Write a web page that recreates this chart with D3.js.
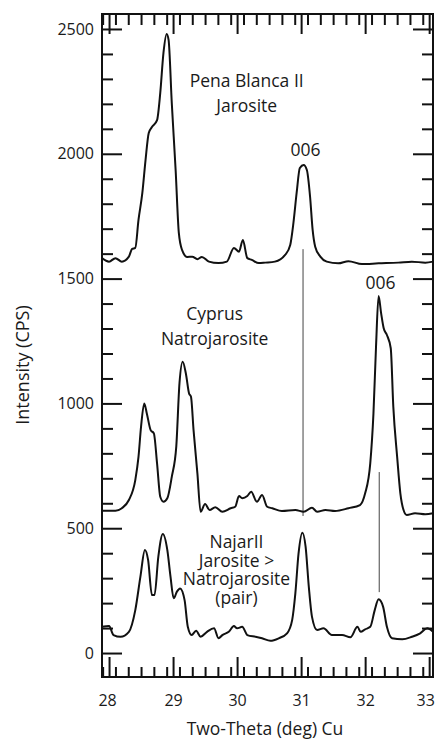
<!DOCTYPE html>
<html>
<head>
<meta charset="utf-8">
<script src="https://cdn.jsdelivr.net/npm/d3@7"></script>
<style>
  body { margin: 0; background: #fff; }
  text { font-family: "Open Sans", sans-serif; fill: #1a1a1a; }
</style>
</head>
<body>
<svg width="435" height="742"></svg>
<script>
let width = 435, height = 742;

// two-theta (deg), intensity (CPS)
const penaBlanca = [
    [27.89, 1582], [28.0, 1568], [28.1, 1582], [28.2, 1568], [28.31, 1588], [28.36, 1619],
    [28.41, 1623], [28.46, 1735], [28.52, 1843], [28.57, 1975], [28.62, 2083], [28.67, 2107],
    [28.75, 2135], [28.80, 2244], [28.85, 2404], [28.90, 2480], [28.93, 2456], [28.98, 2203],
    [29.04, 1935], [29.09, 1683], [29.14, 1615], [29.22, 1587], [29.30, 1588], [29.38, 1578],
    [29.45, 1587], [29.56, 1568], [29.71, 1562], [29.84, 1568], [29.95, 1623], [30.03, 1608],
    [30.09, 1655], [30.16, 1582], [30.23, 1575], [30.34, 1562], [30.44, 1564], [30.59, 1568],
    [30.75, 1595], [30.83, 1635], [30.88, 1723], [30.93, 1843], [30.98, 1943], [31.04, 1955],
    [31.09, 1935], [31.14, 1828], [31.18, 1695], [31.22, 1628], [31.30, 1588], [31.40, 1568],
    [31.58, 1561], [31.74, 1570], [31.95, 1558], [32.21, 1561], [32.52, 1564], [32.73, 1568],
    [32.94, 1564], [33.06, 1568]
];

const cyprus = [
    [27.89, 570], [28.1, 570], [28.2, 580], [28.31, 613], [28.41, 693], [28.46, 786],
    [28.50, 907], [28.55, 1000], [28.59, 960], [28.65, 893], [28.70, 880], [28.75, 760],
    [28.80, 626], [28.85, 606], [28.91, 620], [28.98, 706], [29.05, 827], [29.10, 1080],
    [29.15, 1167], [29.20, 1120], [29.25, 1040], [29.28, 1027], [29.32, 893], [29.38, 720],
    [29.43, 566], [29.50, 597], [29.57, 573], [29.66, 584], [29.77, 566], [29.90, 580],
    [29.97, 586], [30.03, 629], [30.08, 620], [30.16, 629], [30.22, 646], [30.31, 606],
    [30.39, 633], [30.47, 586], [30.55, 580], [30.70, 569], [30.91, 573], [31.04, 566],
    [31.17, 582], [31.25, 566], [31.38, 573], [31.53, 569], [31.74, 580], [31.92, 593],
    [32.00, 640], [32.08, 760], [32.13, 960], [32.17, 1227], [32.21, 1430], [32.25, 1361],
    [32.29, 1301], [32.34, 1274], [32.40, 1221], [32.44, 987], [32.50, 786], [32.55, 640],
    [32.60, 573], [32.65, 553], [32.78, 560], [32.94, 556], [33.06, 560]
];

const najar = [
    [27.89, 105], [28.0, 108], [28.07, 72], [28.18, 65], [28.31, 85], [28.41, 172],
    [28.49, 306], [28.56, 413], [28.61, 373], [28.67, 232], [28.71, 232], [28.77, 386],
    [28.84, 477], [28.91, 413], [28.96, 306], [29.01, 219], [29.06, 246], [29.11, 259],
    [29.18, 212], [29.23, 105], [29.29, 72], [29.36, 89], [29.43, 65], [29.53, 85],
    [29.64, 99], [29.71, 59], [29.77, 72], [29.87, 85], [29.95, 108], [30.0, 99],
    [30.08, 105], [30.16, 72], [30.29, 65], [30.39, 59], [30.52, 49], [30.65, 59],
    [30.78, 79], [30.86, 132], [30.91, 239], [30.96, 399], [31.02, 482], [31.07, 426],
    [31.12, 266], [31.17, 145], [31.25, 92], [31.35, 99], [31.48, 72], [31.64, 72],
    [31.77, 63], [31.88, 105], [31.93, 85], [32.0, 95], [32.08, 105], [32.15, 172],
    [32.21, 215], [32.28, 186], [32.34, 105], [32.42, 59], [32.58, 55], [32.73, 65],
    [32.86, 79], [32.97, 99], [33.06, 85]
];

// thin marker lines: [theta, from cps, to cps]
const markers = [[31.03, 1618, 549], [32.22, 725, 244]];

// labels: [lines, theta, cps of first baseline, line gap]
const labels = [
    [["Pena Blanca II", "Jarosite"], 30.15, 2268, 25],
    [["006"], 31.07, 1991, 0],
    [["006"], 32.24, 1458, 0],
    [["Cyprus", "Natrojarosite"], 29.65, 1336, 25],
    [["NajarII", "Jarosite >", "Natrojarosite", "(pair)"], 29.99, 421, 18.7]
];

const xMajor = [28, 29, 30, 31, 32, 33];
const yMajor = [0, 500, 1000, 1500, 2000, 2500];

let svg = d3.select("svg");

let margin = { left: 102, right: 2, top: 14, bottom: 65 };

let x = d3.scaleLinear()
    .domain([27.89, 33.06])
    .range([margin.left, width - margin.right]);

let y = d3.scaleLinear()
    .domain([-96, 2560])
    .range([height - margin.bottom, margin.top]);

let xMinor = d3.range(27.9, 33.06, 0.2).map(d => +d.toFixed(1)).filter(d => !xMajor.includes(d));
let yMinor = d3.range(0, 2560, 100).filter(d => d % 500 != 0);

let yBottom = height - margin.bottom, yTop = margin.top;
let xLeft = margin.left, xRight = width - margin.right;

function styleAxis(g) {
    g.select(".domain").remove();
    g.selectAll("line").attr("stroke", "#111").attr("stroke-width", 2);
    g.selectAll("text").style("font-size", "16px").attr("fill", "#1a1a1a");
}

// bottom
svg.append("g").attr("transform", `translate(0,${yBottom})`)
    .call(d3.axisBottom(x).tickValues(xMajor).tickSize(-20).tickPadding(18).tickFormat(d3.format("d")))
    .call(styleAxis)
    .selectAll("text").attr("dx", d => d == 33 ? -4 : (d == 28 ? -2 : 0));
svg.append("g").attr("transform", `translate(0,${yBottom})`)
    .call(d3.axisBottom(x).tickValues(xMinor).tickSize(-10).tickFormat(""))
    .call(styleAxis);
// top
svg.append("g").attr("transform", `translate(0,${yTop})`)
    .call(d3.axisTop(x).tickValues(xMajor).tickSize(-20).tickFormat(""))
    .call(styleAxis);
svg.append("g").attr("transform", `translate(0,${yTop})`)
    .call(d3.axisTop(x).tickValues(xMinor).tickSize(-11).tickFormat(""))
    .call(styleAxis);
// left
svg.append("g").attr("transform", `translate(${xLeft},0)`)
    .call(d3.axisLeft(y).tickValues(yMajor).tickSize(-20).tickPadding(8).tickFormat(d3.format("d")))
    .call(styleAxis);
svg.append("g").attr("transform", `translate(${xLeft},0)`)
    .call(d3.axisLeft(y).tickValues(yMinor).tickSize(-11).tickFormat(""))
    .call(styleAxis);
// right
svg.append("g").attr("transform", `translate(${xRight},0)`)
    .call(d3.axisRight(y).tickValues(yMajor).tickSize(-20).tickFormat(""))
    .call(styleAxis);
svg.append("g").attr("transform", `translate(${xRight},0)`)
    .call(d3.axisRight(y).tickValues(yMinor).tickSize(-11).tickFormat(""))
    .call(styleAxis);

// frame
svg.append("rect")
    .attr("x", xLeft).attr("y", yTop)
    .attr("width", xRight - xLeft).attr("height", yBottom - yTop)
    .attr("fill", "none").attr("stroke", "#111").attr("stroke-width", 2);

// marker lines
svg.append("g").selectAll("line")
    .data(markers)
    .enter().append("line")
    .attr("x1", d => x(d[0])).attr("x2", d => x(d[0]))
    .attr("y1", d => y(d[1])).attr("y2", d => y(d[2]))
    .attr("stroke", "#444").attr("stroke-width", 1);

// traces
let line = d3.line()
    .x(d => x(d[0]))
    .y(d => y(d[1]))
    .curve(d3.curveMonotoneX);

svg.append("g").selectAll("path")
    .data([penaBlanca, cyprus, najar])
    .enter().append("path")
    .attr("d", line)
    .attr("fill", "none")
    .attr("stroke", "#111")
    .attr("stroke-width", 2)
    .attr("stroke-linejoin", "round");

// annotations
let ann = svg.append("g").selectAll("text")
    .data(labels)
    .enter().append("text")
    .attr("text-anchor", "middle")
    .style("font-size", "17.5px");

ann.selectAll("tspan")
    .data(d => d[0].map((t, i) => ({ t: t, i: i, tx: d[1], ty: d[2], gap: d[3] })))
    .enter().append("tspan")
    .attr("x", d => x(d.tx))
    .attr("y", d => y(d.ty) + d.i * d.gap)
    .text(d => d.t);

// axis titles
svg.append("text")
    .attr("x", 265)
    .attr("y", 735)
    .attr("text-anchor", "middle")
    .style("font-size", "17.5px")
    .text("Two-Theta (deg) Cu");

svg.append("text")
    .attr("transform", "translate(29,365) rotate(-90)")
    .attr("text-anchor", "middle")
    .style("font-size", "18px")
    .text("Intensity (CPS)");
</script>
</body>
</html>
